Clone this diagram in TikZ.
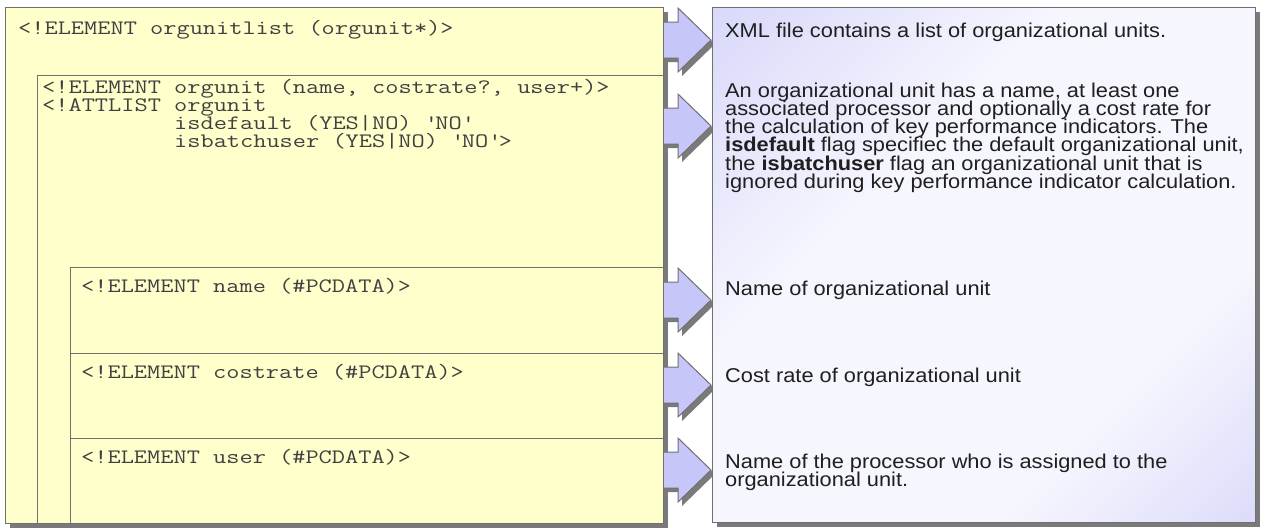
\documentclass[tikz,border=0pt]{standalone}
\usepackage{fontspec}
\setmainfont{Liberation Sans}[FakeStretch=1.09]
\newfontfamily\codefont{Latin Modern Mono}[FakeStretch=1.25]
\usetikzlibrary{shadows}

\definecolor{boxyellow}{HTML}{FFFFCC}
\definecolor{boxline}{HTML}{707070}
\definecolor{lavender}{HTML}{C6C6F8}
\definecolor{paleblue}{HTML}{F6F6FE}
\definecolor{shadowgray}{HTML}{7A7A7A}

\newcommand\tightlines{\lineskiplimit=-\maxdimen\relax}

\pgfdeclareverticalshading{descshade}{100bp}{color(0bp)=(lavender); color(32bp)=(paleblue);
	color(62bp)=(paleblue); color(100bp)=(lavender)}

\tikzset{
	boxshadow/.style={drop shadow={shadow xshift=4pt, shadow yshift=-4pt, fill=shadowgray, opacity=1}},
	dtdbox/.style={draw=boxline, fill=boxyellow, line width=1.2pt, anchor=north west, inner sep=0pt},
	dtdtext/.style={anchor=base west, inner sep=0pt, text=black!75, align=left,
		font=\codefont\fontsize{20.5}{18}\selectfont\tightlines},
	desctext/.style={anchor=base west, inner sep=0pt, text=black!88, align=left,
		font=\fontsize{20}{18.3}\selectfont\tightlines},
	blockarrow/.style={draw=boxline, fill=lavender, line width=1pt, boxshadow},
}

\begin{document}
\begin{tikzpicture}[x=1pt, y=-1pt]
		\useasboundingbox (0,0) rectangle (1264,528);

		% nested DTD boxes
		\node[dtdbox, boxshadow, minimum width=658, minimum height=516] (listbox) at (5,7) {};
		\node[dtdbox, minimum width=626, minimum height=448] (unitbox) at (37,75) {};
		\node[dtdbox, minimum width=593, minimum height=86] (namebox) at (70,267) {};
		\node[dtdbox, minimum width=593, minimum height=85] (costbox) at (70,353) {};
		\node[dtdbox, minimum width=593, minimum height=85] (userbox) at (70,438) {};

		% base of a multi-line node is its last line
		\node[dtdtext] (listdecl) at (18,34) {<!ELEMENT orgunitlist (orgunit*)>};
		\node[dtdtext] (unitdecl) at (42,147) {<!ELEMENT orgunit (name, costrate?, user+)>\\
			<!ATTLIST orgunit\\
			\phantom{<!ATTLIST }isdefault (YES|NO) \textquotesingle NO\textquotesingle\\
			\phantom{<!ATTLIST }isbatchuser (YES|NO) \textquotesingle NO\textquotesingle>};
		\node[dtdtext] (namedecl) at (81,292) {<!ELEMENT name (\#PCDATA)>};
		\node[dtdtext] (costdecl) at (81,378) {<!ELEMENT costrate (\#PCDATA)>};
		\node[dtdtext] (userdecl) at (81,463) {<!ELEMENT user (\#PCDATA)>};

		% block arrows
		\foreach \y in {40,126,300,385,470}
			\draw[blockarrow] (664,\y-18) -- (678,\y-18) -- (678,\y-32) -- (711,\y)
				-- (678,\y+32) -- (678,\y+18) -- (664,\y+18);

		% description box
		\node[draw=boxline, line width=1.2pt, shading=descshade, shading angle=45, boxshadow,
			anchor=north west, inner sep=0pt, minimum width=543, minimum height=515] (descbox) at (712,7) {};

		\node[desctext] (listdesc) at (725,37) {XML file contains a list of organizational units.};
		\node[desctext] (unitdesc) at (725,188.5) {An organizational unit has a name, at least one\\
			associated processor and optionally a cost rate for\\
			the calculation of key performance indicators. The\\
			\textbf{isdefault} flag specifiec the default organizational unit,\\
			the \textbf{isbatchuser} flag an organizational unit that is\\
			ignored during key performance indicator calculation.};
		\node[desctext] (namedesc) at (725,295) {Name of organizational unit};
		\node[desctext] (costdesc) at (725,382) {Cost rate of organizational unit};
		\node[desctext] (userdesc) at (725,486.3) {Name of the processor who is assigned to the\\
			organizational unit.};
	\end{tikzpicture}
\end{document}
